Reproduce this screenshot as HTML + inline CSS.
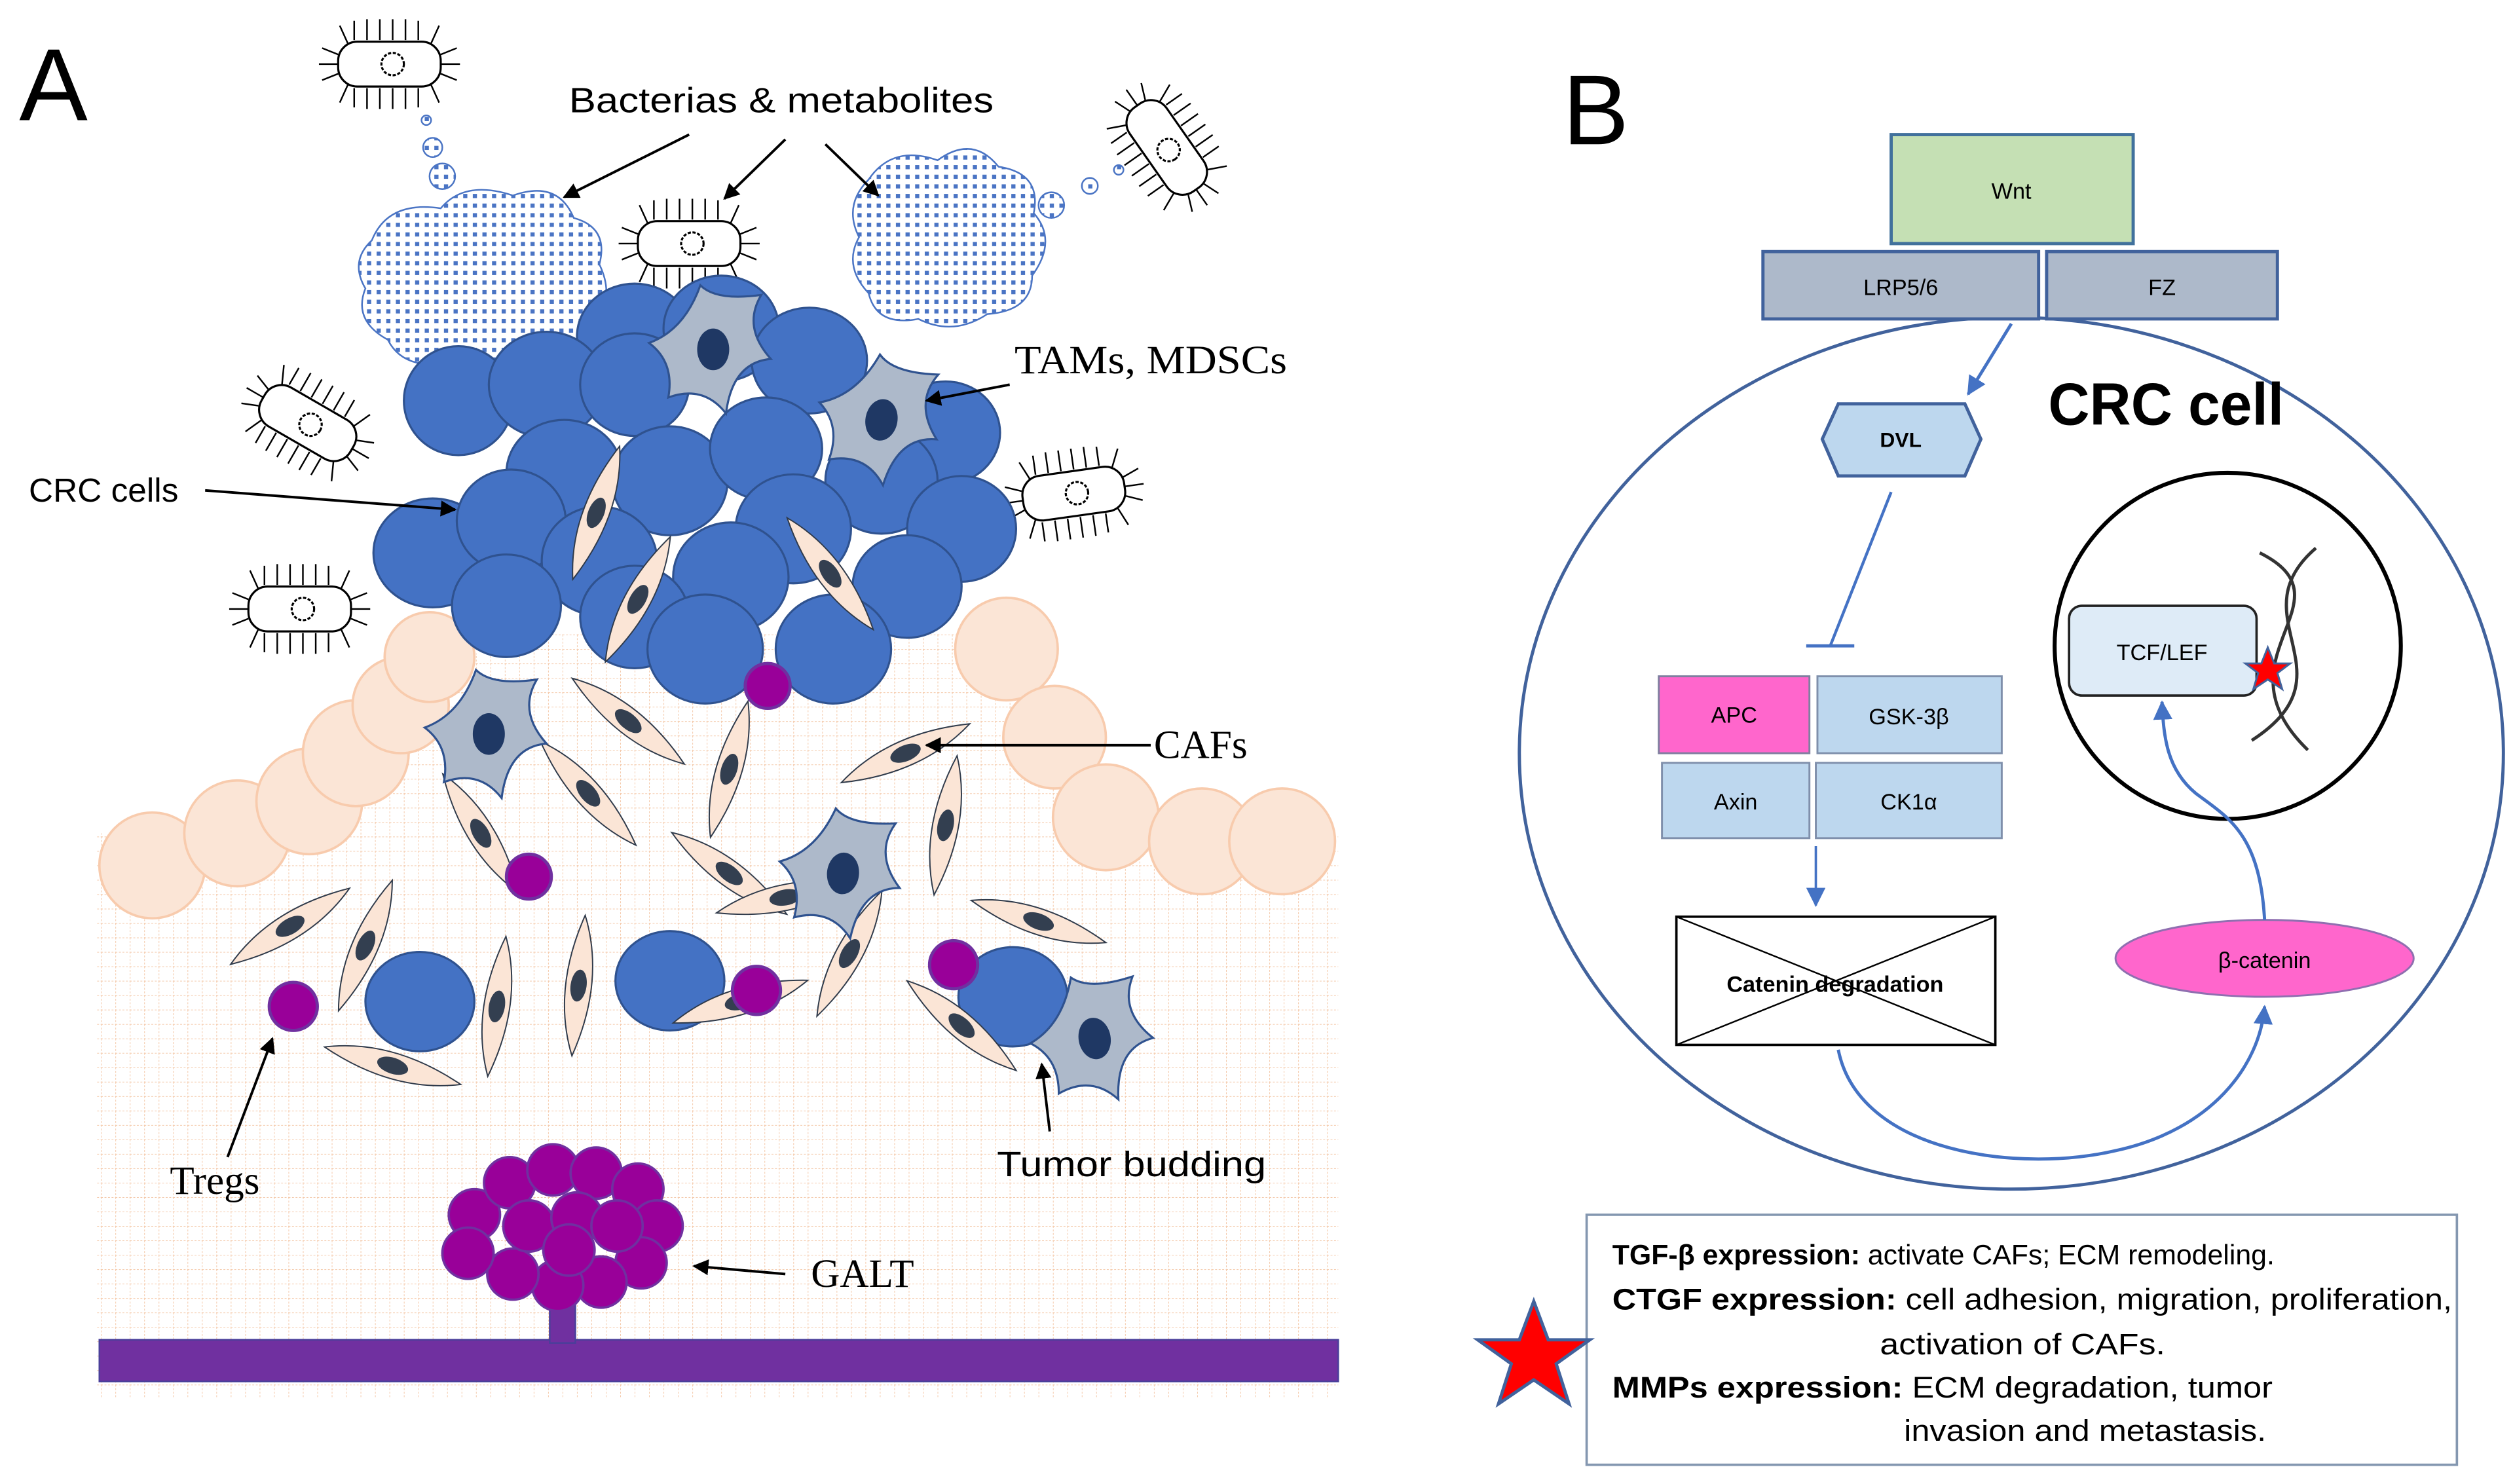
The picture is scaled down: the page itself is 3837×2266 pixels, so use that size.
<!DOCTYPE html>
<html><head><meta charset="utf-8"><style>html,body{margin:0;padding:0;background:#fff}svg{display:block}</style></head>
<body>
<svg width="3837" height="2266" viewBox="0 0 1568 926" preserveAspectRatio="none" xmlns="http://www.w3.org/2000/svg">
<defs>
<pattern id="grid" width="9" height="9" patternUnits="userSpaceOnUse">
<path d="M0 0H9M0 0V9" stroke="#f4c8a8" stroke-width="0.8" stroke-dasharray="1.2 1" fill="none"/>
</pattern>
<pattern id="dots" width="6" height="6" patternUnits="userSpaceOnUse">
<rect width="6" height="6" fill="#fff"/><rect x="1" y="1" width="2.6" height="2.6" fill="#4a74c4"/>
</pattern>
<marker id="ar" markerWidth="10" markerHeight="10" refX="9" refY="5" orient="auto" markerUnits="userSpaceOnUse"><path d="M0,0 L10,5 L0,10 z" fill="#000"/></marker>
<marker id="ab" markerWidth="12" markerHeight="12" refX="11" refY="6" orient="auto" markerUnits="userSpaceOnUse"><path d="M0,0 L12,6 L0,12 z" fill="#4472c4"/></marker>
<g id="bac">
<rect x="-32" y="-14" width="64" height="28" rx="12" fill="#fff" stroke="#000" stroke-width="1.3"/>
<circle cx="2" cy="0" r="7" fill="none" stroke="#000" stroke-width="1.3" stroke-dasharray="2 1"/>
<g stroke="#000" stroke-width="1">
<path d="M-22-15V-27M-14-15V-28M-6-15V-28M2-15V-28M10-15V-28M18-15V-27M26-13L31-24M-22 15V27M-14 15V28M-6 15V28M2 15V28M10 15V28M18 15V27M26 13L31 24M-26-13L-31-24M-26 13L-31 24M32-6L42-10M32 0H44M32 6L42 10M-32-6L-42-10M-32 0H-44M-32 6L-42 10"/>
</g>
</g>
<g id="caf">
<path d="M-44,2 Q-5,-16 44,-2 Q5,16 -44,2 Z" fill="#fbe5d6" stroke="#2f3a4a" stroke-width="0.8"/>
<ellipse cx="0" cy="0" rx="10" ry="5" fill="#333f50"/>
</g>
<g id="tam">
<path d="M-8,-40 Q2,-30 30,-34 Q18,-14 36,6 Q12,8 8,40 Q-6,22 -28,30 Q-24,8 -40,-4 Q-18,-12 -8,-40 Z" fill="#adb9ca" stroke="#2f528f" stroke-width="1.3"/>
<ellipse cx="0" cy="0" rx="10" ry="13" fill="#1f3864"/>
</g>
</defs>
<rect width="1568" height="926" fill="#fff"/>

<path d="M60,520 L190,520 L240,430 L330,395 L600,395 L660,440 L700,520 L835,520 L835,872 L60,872 Z" fill="url(#grid)"/>
<g fill="#fbe5d6" stroke="#f8cbad" stroke-width="1.5">
<circle cx="95" cy="540" r="33"/><circle cx="148" cy="520" r="33"/><circle cx="193" cy="500" r="33"/><circle cx="222" cy="470" r="33"/><circle cx="250" cy="440" r="30"/><circle cx="268" cy="410" r="28"/>
<circle cx="628" cy="405" r="32"/><circle cx="658" cy="460" r="32"/><circle cx="690" cy="510" r="33"/><circle cx="750" cy="525" r="33"/><circle cx="800" cy="525" r="33"/>
</g>
<rect x="62" y="836" width="773" height="26" fill="#7030a0" stroke="#4a3f9a"/>
<rect x="343" y="806" width="16" height="32" fill="#7030a0" stroke="#4a3f9a"/>
<g fill="#990099" stroke="#7030a0" stroke-width="1.5">
<circle cx="296" cy="758" r="16"/><circle cx="318" cy="738" r="16"/><circle cx="345" cy="730" r="16"/><circle cx="372" cy="732" r="16"/><circle cx="398" cy="742" r="16"/><circle cx="410" cy="765" r="16"/><circle cx="400" cy="788" r="16"/><circle cx="375" cy="800" r="16"/><circle cx="348" cy="802" r="16"/><circle cx="320" cy="795" r="16"/><circle cx="292" cy="782" r="16"/><circle cx="330" cy="765" r="16"/><circle cx="360" cy="760" r="16"/><circle cx="385" cy="765" r="16"/><circle cx="355" cy="780" r="16"/>
</g>
<path d="M232,150 Q242,125 275,130 Q290,112 320,122 Q348,112 358,136 Q380,142 374,165 Q385,188 368,203 Q362,226 330,224 Q310,236 283,226 Q252,232 242,212 Q220,200 228,180 Q218,163 232,150 Z" fill="url(#dots)" stroke="#4a74c4" stroke-width="1"/>
<path d="M542,112 Q557,90 585,100 Q607,84 623,104 Q650,108 645,133 Q660,150 644,172 Q644,194 616,196 Q595,210 573,199 Q547,204 542,183 Q526,166 536,148 Q526,128 542,112 Z" fill="url(#dots)" stroke="#4a74c4" stroke-width="1"/>
<g fill="url(#dots)" stroke="#4a74c4" stroke-width="1">
<circle cx="266" cy="75" r="3"/><circle cx="270" cy="92" r="6"/><circle cx="276" cy="110" r="8"/>
<circle cx="656" cy="128" r="8"/><circle cx="680" cy="116" r="5"/><circle cx="698" cy="106" r="3"/>
</g>
<use href="#bac" transform="translate(243,40)"/>
<use href="#bac" transform="translate(728,92) rotate(55)"/>
<use href="#bac" transform="translate(430,152)"/>
<use href="#bac" transform="translate(192,264) rotate(30)"/>
<use href="#bac" transform="translate(670,308) rotate(-8)"/>
<use href="#bac" transform="translate(187,380)"/>
<g fill="#4472c4" stroke="#2f528f" stroke-width="1.3">
<ellipse cx="396" cy="210" rx="36" ry="33"/><ellipse cx="450" cy="205" rx="36" ry="33"/><ellipse cx="505" cy="225" rx="36" ry="33"/>
<ellipse cx="286" cy="250" rx="34" ry="34"/><ellipse cx="341" cy="240" rx="36" ry="33"/><ellipse cx="396" cy="240" rx="34" ry="32"/><ellipse cx="590" cy="270" rx="34" ry="32"/>
<ellipse cx="352" cy="295" rx="36" ry="33"/><ellipse cx="418" cy="300" rx="36" ry="34"/><ellipse cx="478" cy="280" rx="35" ry="32"/><ellipse cx="550" cy="300" rx="35" ry="33"/>
<ellipse cx="270" cy="345" rx="37" ry="34"/><ellipse cx="319" cy="325" rx="34" ry="32"/><ellipse cx="600" cy="330" rx="34" ry="33"/><ellipse cx="495" cy="330" rx="36" ry="34"/>
<ellipse cx="374" cy="350" rx="36" ry="34"/><ellipse cx="456" cy="360" rx="36" ry="34"/><ellipse cx="566" cy="366" rx="34" ry="32"/>
<ellipse cx="316" cy="378" rx="34" ry="32"/><ellipse cx="396" cy="385" rx="34" ry="32"/><ellipse cx="440" cy="405" rx="36" ry="34"/><ellipse cx="520" cy="405" rx="36" ry="34"/>
<ellipse cx="262" cy="625" rx="34" ry="31"/><ellipse cx="418" cy="612" rx="34" ry="31"/><ellipse cx="632" cy="622" rx="34" ry="31"/>
</g>
<use href="#caf" transform="translate(372,320) rotate(-68)"/>
<use href="#caf" transform="translate(398,374) rotate(-60)"/>
<use href="#caf" transform="translate(518,358) rotate(55)"/>
<use href="#caf" transform="translate(392,450) rotate(40)"/>
<use href="#caf" transform="translate(455,480) rotate(-72)"/>
<use href="#caf" transform="translate(565,470) rotate(-22)"/>
<use href="#caf" transform="translate(590,515) rotate(-78)"/>
<use href="#caf" transform="translate(300,520) rotate(60)"/>
<use href="#caf" transform="translate(367,495) rotate(50)"/>
<use href="#caf" transform="translate(181,578) rotate(-30)"/>
<use href="#caf" transform="translate(228,590) rotate(-65)"/>
<use href="#caf" transform="translate(310,628) rotate(-80)"/>
<use href="#caf" transform="translate(361,615) rotate(-82)"/>
<use href="#caf" transform="translate(455,545) rotate(38)"/>
<use href="#caf" transform="translate(462,625) rotate(-15)"/>
<use href="#caf" transform="translate(530,595) rotate(-60)"/>
<use href="#caf" transform="translate(648,575) rotate(20)"/>
<use href="#caf" transform="translate(600,640) rotate(42)"/>
<use href="#caf" transform="translate(245,665) rotate(18)"/>
<use href="#caf" transform="translate(490,560) rotate(-10)"/>
<use href="#tam" transform="translate(445,218)"/>
<use href="#tam" transform="translate(550,262) rotate(10)"/>
<use href="#tam" transform="translate(305,458)"/>
<use href="#tam" transform="translate(526,545) rotate(5)"/>
<use href="#tam" transform="translate(683,648) rotate(-10)"/>
<g fill="#990099" stroke="#7030a0" stroke-width="2">
<circle cx="479" cy="428" r="14"/><circle cx="330" cy="547" r="14"/><circle cx="472" cy="618" r="15"/><circle cx="183" cy="628" r="15"/><circle cx="595" cy="602" r="15"/>
</g>
<text x="12" y="75" font-family="Liberation Sans, sans-serif" font-size="64">A</text>
<text x="355" y="70" font-family="Liberation Sans, sans-serif" font-size="22" textLength="265" lengthAdjust="spacingAndGlyphs">Bacterias &amp; metabolites</text>
<g stroke="#000" stroke-width="1.6" fill="none" marker-end="url(#ar)">
<line x1="430" y1="84" x2="352" y2="123"/><line x1="490" y1="87" x2="452" y2="124"/><line x1="515" y1="90" x2="548" y2="122"/>
<line x1="630" y1="240" x2="578" y2="250"/><line x1="128" y1="306" x2="284" y2="318"/>
<line x1="718" y1="465" x2="578" y2="465"/><line x1="142" y1="722" x2="170" y2="648"/>
<line x1="655" y1="706" x2="650" y2="664"/><line x1="490" y1="795" x2="433" y2="790"/>
</g>
<text x="633" y="233" font-family="Liberation Serif, serif" font-size="25" textLength="170" lengthAdjust="spacingAndGlyphs">TAMs, MDSCs</text>
<text x="18" y="313" font-family="Liberation Sans, sans-serif" font-size="21">CRC cells</text>
<text x="720" y="473" font-family="Liberation Serif, serif" font-size="25">CAFs</text>
<text x="106" y="745" font-family="Liberation Serif, serif" font-size="25">Tregs</text>
<text x="622" y="734" font-family="Liberation Sans, sans-serif" font-size="22" textLength="168" lengthAdjust="spacingAndGlyphs">Tumor budding</text>
<text x="506" y="803" font-family="Liberation Serif, serif" font-size="25">GALT</text>

<text x="975" y="90" font-family="Liberation Sans, sans-serif" font-size="62">B</text>
<ellipse cx="1255" cy="470" rx="307" ry="272" fill="none" stroke="#41629c" stroke-width="2"/>
<rect x="1180" y="84" width="151" height="68" fill="#c5e0b4" stroke="#41719c" stroke-width="2"/>
<text x="1255" y="124" text-anchor="middle" font-family="Liberation Sans, sans-serif" font-size="14">Wnt</text>
<rect x="1100" y="157" width="172" height="42" fill="#adb9ca" stroke="#41629c" stroke-width="2"/>
<rect x="1277" y="157" width="144" height="42" fill="#adb9ca" stroke="#41629c" stroke-width="2"/>
<text x="1186" y="184" text-anchor="middle" font-family="Liberation Sans, sans-serif" font-size="14">LRP5/6</text>
<text x="1349" y="184" text-anchor="middle" font-family="Liberation Sans, sans-serif" font-size="14">FZ</text>
<text x="1278" y="265" font-family="Liberation Sans, sans-serif" font-size="37" font-weight="bold" textLength="147" lengthAdjust="spacingAndGlyphs">CRC cell</text>
<line x1="1255" y1="202" x2="1228" y2="246" stroke="#4472c4" stroke-width="2" marker-end="url(#ab)"/>
<polygon points="1147,252 1226,252 1236,274 1226,297 1147,297 1137,274" fill="#bdd7ee" stroke="#41629c" stroke-width="2"/>
<text x="1186" y="279" text-anchor="middle" font-family="Liberation Sans, sans-serif" font-size="13" font-weight="bold">DVL</text>
<line x1="1180" y1="307" x2="1142" y2="403" stroke="#4472c4" stroke-width="1.8"/>
<line x1="1127" y1="403" x2="1157" y2="403" stroke="#4472c4" stroke-width="2"/>
<rect x="1035" y="422" width="94" height="48" fill="#ff66cc" stroke="#7f7f9f" stroke-width="1.2"/>
<rect x="1134" y="422" width="115" height="48" fill="#bdd7ee" stroke="#7f8fab" stroke-width="1.2"/>
<rect x="1037" y="476" width="92" height="47" fill="#bdd7ee" stroke="#7f8fab" stroke-width="1.2"/>
<rect x="1133" y="476" width="116" height="47" fill="#bdd7ee" stroke="#7f8fab" stroke-width="1.2"/>
<g font-family="Liberation Sans, sans-serif" font-size="14" text-anchor="middle">
<text x="1082" y="451">APC</text><text x="1191" y="452">GSK-3β</text><text x="1083" y="505">Axin</text><text x="1191" y="505">CK1α</text>
</g>
<line x1="1133" y1="528" x2="1133" y2="565" stroke="#4472c4" stroke-width="1.5" marker-end="url(#ab)"/>
<rect x="1046" y="572" width="199" height="80" fill="#fff" stroke="#000" stroke-width="1.5"/>
<path d="M1046,572 L1245,652 M1245,572 L1046,652" stroke="#000" stroke-width="1"/>
<text x="1145" y="619" text-anchor="middle" font-family="Liberation Sans, sans-serif" font-size="14" font-weight="bold">Catenin  degradation</text>
<circle cx="1390" cy="403" r="108" fill="#fff" stroke="#000" stroke-width="2.5"/>
<rect x="1291" y="378" width="117" height="56" rx="8" fill="#deebf7" stroke="#222" stroke-width="1.5"/>
<text x="1349" y="412" text-anchor="middle" font-family="Liberation Sans, sans-serif" font-size="14">TCF/LEF</text>
<path d="M1410,345 C1470,375 1380,410 1440,468 M1445,342 C1395,385 1470,420 1405,462" stroke="#333" stroke-width="2" fill="none"/>
<polygon points="1415,404 1419,414 1429,414 1421,420 1424,430 1415,424 1406,430 1409,420 1401,414 1411,414" fill="#ff0000" stroke="#41629c" stroke-width="1.2"/>
<ellipse cx="1413" cy="598" rx="93" ry="24" fill="#ff66cc" stroke="#8f6fb0" stroke-width="1.2"/>
<text x="1413" y="604" text-anchor="middle" font-family="Liberation Sans, sans-serif" font-size="14">β-catenin</text>
<path d="M1413,574 C1410,520 1390,510 1370,495 C1352,480 1350,460 1349,438" stroke="#4472c4" stroke-width="2" fill="none" marker-end="url(#ab)"/>
<path d="M1147,655 C1160,720 1260,732 1320,718 C1380,705 1410,665 1413,628" stroke="#4472c4" stroke-width="2" fill="none" marker-end="url(#ab)"/>
<rect x="990" y="758" width="543" height="156" fill="#fff" stroke="#8497b0" stroke-width="1.5"/>
<polygon points="957,812 966,836 992,836 971,851 979,876 957,861 935,876 943,851 922,836 948,836" fill="#ff0000" stroke="#41629c" stroke-width="2"/>
<g font-family="Liberation Sans, sans-serif" font-size="18.5">
<text x="1006" y="789" font-size="17.5"><tspan font-weight="bold">TGF-β expression:</tspan> activate CAFs; ECM remodeling.</text>
<text x="1006" y="817" textLength="524" lengthAdjust="spacingAndGlyphs"><tspan font-weight="bold">CTGF expression:</tspan> cell adhesion, migration, proliferation,</text>
<text x="1173" y="845" textLength="178" lengthAdjust="spacingAndGlyphs">activation of CAFs.</text>
<text x="1006" y="872" textLength="412" lengthAdjust="spacingAndGlyphs"><tspan font-weight="bold">MMPs expression:</tspan> ECM degradation, tumor</text>
<text x="1188" y="899" textLength="226" lengthAdjust="spacingAndGlyphs">invasion and metastasis.</text>
</g>
</svg>
</body></html>
